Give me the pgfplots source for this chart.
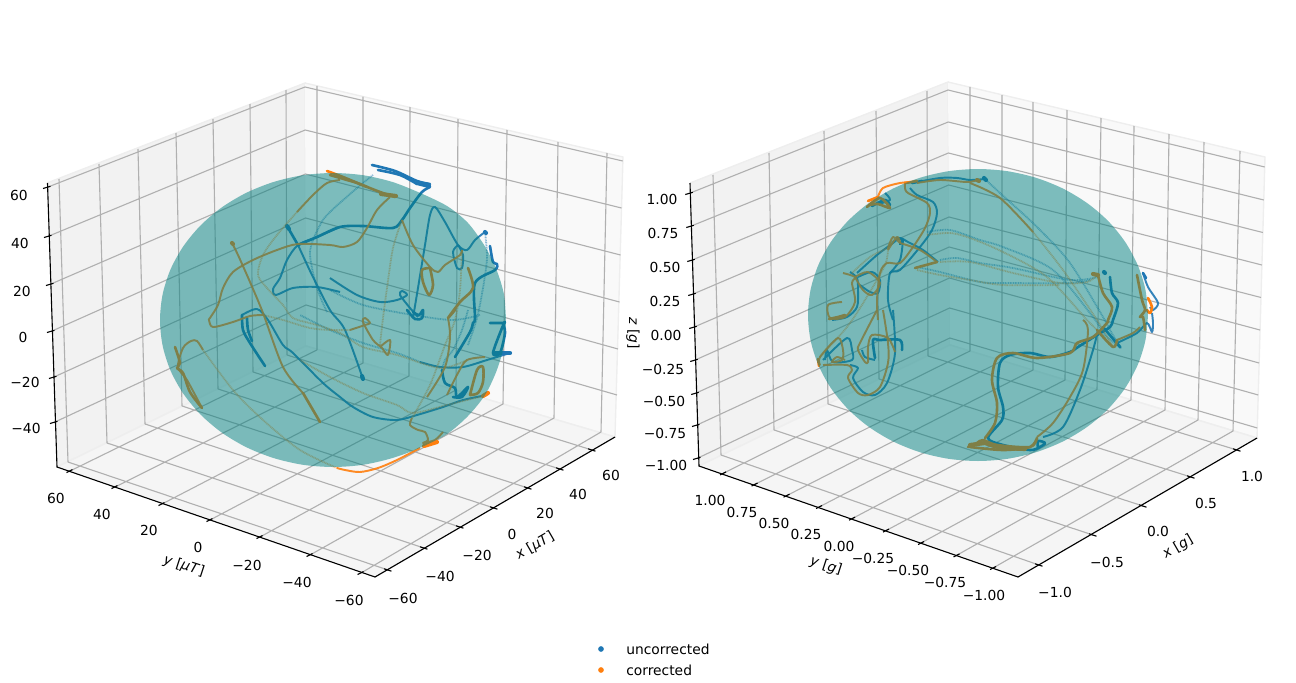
\documentclass[border=0pt]{standalone}
\usepackage{pgfplots}
\pgfplotsset{compat=1.18}
\usepackage{fontspec}
\setmainfont{DejaVu Sans}
\definecolor{mblue}{RGB}{31,119,180}
\definecolor{morange}{RGB}{255,127,14}
\definecolor{sph}{RGB}{0,128,128}
\definecolor{gridc}{RGB}{176,176,176}
\definecolor{wallL}{RGB}{242,242,242}
\definecolor{wallR}{RGB}{249,249,249}
\definecolor{wallF}{RGB}{245,245,245}
\definecolor{paneedge}{RGB}{238,238,238}
\begin{document}
\begin{tikzpicture}
\path[use as bounding box] (0,0) rectangle (12.96in,6.83in);
\begin{axis}[
  at={(0,0)}, anchor=south west,
  scale only axis, width=12.96in, height=6.83in,
  xmin=0, xmax=1296, ymin=0, ymax=683, y dir=reverse,
  hide axis, clip=false, unbounded coords=jump,
  font=\fontsize{10}{12}\selectfont,
  ux/.style={mblue, line width=3pt, line cap=round, line join=round},
  ub/.style={mblue, line width=1.9pt, line join=round, line cap=round, smooth, tension=.5},
  um/.style={mblue, line width=1.4pt, line join=round, opacity=.9, smooth, tension=.5},
  uf/.style={mblue, line width=1.3pt, opacity=.5, dash pattern=on .7pt off .5pt, smooth, tension=.5},
  ox/.style={morange, line width=3pt, line cap=round, line join=round},
  ob/.style={morange, line width=1.9pt, line join=round, line cap=round, smooth, tension=.5},
  om/.style={morange, line width=1.4pt, line join=round, opacity=.9, smooth, tension=.5},
  of/.style={morange, line width=1.3pt, opacity=.5, dash pattern=on .7pt off .5pt, smooth, tension=.5},
  tl/.style={black, line width=.8pt},
]
% ---------- left panel: panes
\addplot[fill=wallL, draw=paneedge, line width=1pt] coordinates {(47,183) (305,83) (306,346) (57,467)};
\addplot[fill=wallR, draw=paneedge, line width=1pt] coordinates {(305,83) (623,157) (615,437) (306,346)};
\addplot[fill=wallF, draw=paneedge, line width=1pt] coordinates {(57,467) (306,346) (615,437) (375,577)};
% grid
\addplot[gridc, line width=.8pt] coordinates {
 (59,179) (68,462) (nan,nan) (99,164) (107,443) (nan,nan) (138,149) (145,424) (nan,nan)
 (176,133) (182,406) (nan,nan) (213,119) (218,389) (nan,nan) (250,104) (253,372) (nan,nan) (286,90) (287,355) (nan,nan)
 (317,86) (317,350) (nan,nan) (363,96.5) (363,363) (nan,nan) (410,107) (409,376) (nan,nan) (458,119) (456,390) (nan,nan)
 (507,130) (503,404) (nan,nan) (558,142) (554,418) (nan,nan) (607,153) (601,432) (nan,nan)
 (48,187) (305,87) (622.7,161) (nan,nan) (49,236) (305.2,130) (621.5,208) (nan,nan)
 (51,284) (305.4,174) (620.5,255) (nan,nan) (52,331) (305.6,218) (619.5,302) (nan,nan)
 (54,377) (305.8,262) (618,349) (nan,nan) (55,422) (306,305) (617,395) (nan,nan)
 (388,570) (68,462) (nan,nan) (424,548) (107,443) (nan,nan) (460,527) (145,424) (nan,nan) (494,508) (182,406) (nan,nan)
 (528,488) (218,389) (nan,nan) (560,469) (253,372) (nan,nan) (592,450) (287,355) (nan,nan)
 (70,471) (317,350) (nan,nan) (115,487) (363,363) (nan,nan) (162,504) (409,376) (nan,nan) (210,520) (456,390) (nan,nan)
 (260,537) (503,404) (nan,nan) (310,555) (554,418) (nan,nan) (361,573) (601,432)
};
% axis lines and ticks
\addplot[black, line width=.8pt] coordinates {(47.5,183) (57,467) (375,577) (615,437)};
\addplot[tl] coordinates {
 (43,188.5) (50.5,186.3) (nan,nan) (44,237.5) (51.5,235.3) (nan,nan) (46,285.5) (53.5,283.3) (nan,nan)
 (47,332.5) (54.5,330.3) (nan,nan) (49,378.5) (56.5,376.3) (nan,nan) (50,423.5) (57.5,421.3) (nan,nan)
 (66.5,472.5) (72.5,469.5) (nan,nan) (111.5,488.5) (117.5,485.5) (nan,nan) (158.5,505.5) (164.5,502.5) (nan,nan)
 (206.5,521.5) (212.5,518.5) (nan,nan) (256.5,538.5) (262.5,535.5) (nan,nan) (306.5,556.5) (312.5,553.5) (nan,nan) (357.5,574.5) (363.5,571.5) (nan,nan)
 (384,568.8) (391.5,571.2) (nan,nan) (420,546.8) (427.5,549.2) (nan,nan) (456,525.8) (463.5,528.2) (nan,nan)
 (490,506.8) (497.5,509.2) (nan,nan) (524,486.8) (531.5,489.2) (nan,nan) (556,467.8) (563.5,470.2) (nan,nan) (588,448.8) (595.5,451.2)
};
% tick labels
\node at (axis cs:19,195) {60}; \node at (axis cs:20,243) {40}; \node at (axis cs:22,291) {20};
\node at (axis cs:23,337) {0}; \node at (axis cs:25,382) {−20}; \node at (axis cs:26,428) {−40};
\node at (axis cs:56,498) {60}; \node at (axis cs:102,514) {40}; \node at (axis cs:149,530) {20};
\node at (axis cs:198,547) {0}; \node at (axis cs:247,565) {−20}; \node at (axis cs:297,582) {−40}; \node at (axis cs:349,600) {−60};
\node at (axis cs:403,598) {−60}; \node at (axis cs:440,576) {−40}; \node at (axis cs:477,555) {−20};
\node at (axis cs:512,534) {0}; \node at (axis cs:545,513) {20}; \node at (axis cs:578,494) {40}; \node at (axis cs:611,475) {60};
\node[rotate=-18] at (axis cs:184,566) {\textit{y} [\textit{μT}]};
\node[rotate=30] at (axis cs:535,546) {\textit{x} [\textit{μT}]};

% uncorrected, left
\addplot[ux] coordinates {(287,226) (289,229)};
\addplot[ub] coordinates {(287,226) (298,245)};
\addplot[um] coordinates {(340,227) (317,237) (298,245) (287,260) (280,278) (273,289) (276,295) (293,288) (317,287) (340,292)};
\addplot[ub] coordinates {(298,245) (317,237) (340,227) (363,226) (393,228) (402,220) (410,208) (422,192) (430,187)};
\addplot[ub] coordinates {(372,165) (395,171) (417,181) (430,184)};
\addplot[ub] coordinates {(378,170) (400,175) (417,184)};
\addplot[ux] coordinates {(417,183) (429,186)};
\addplot[uf] coordinates {(373,175) (357,188) (330,212) (320,225) (310,252) (317,288) (327,312)};
\addplot[um] coordinates {(298,245) (312,275) (330,310) (345,330) (363,379)};
\addplot[ux] coordinates {(362,376) (363,379)};
\addplot[um] coordinates {(413,318) (418,288) (425,245) (430,215) (435,207) (445,222) (458,245) (467,250) (475,240) (485,232)};
\addplot[ux] coordinates {(485,232) (486,233)};
\addplot[um] coordinates {(458,245) (453,252) (457,268) (462,268) (463,255) (458,245)};
\addplot[ub] coordinates {(490,246) (493,262) (497,264) (495,270) (475,283) (475,318) (473,323) (470,332) (455,357)};
\addplot[uf] coordinates {(485,232) (487,258) (483,288) (477,318) (468,345)};
\addplot[um] coordinates {(330,278) (357,295) (380,302) (397,300) (407,295) (402,291) (400,295) (410,308) (418,317)};
\addplot[ub] coordinates {(407,310) (415,319) (422,318) (423,310) (419,315) (413,312)};
\addplot[uf] coordinates {(330,290) (363,305) (413,315) (453,320) (480,315)};
\addplot[ub] coordinates {(490,323) (503,323) (505,322) (502,328) (493,353) (500,353) (505,333) (503,323)};
\addplot[ux] coordinates {(495,353) (510,353)};
\addplot[um] coordinates {(510,353) (487,360) (463,367) (440,367) (420,362)};
\addplot[uf] coordinates {(420,362) (397,353) (363,343) (330,330) (300,315)};
\addplot[um] coordinates {(242,315) (257,309) (268,320) (283,345) (293,353) (323,383) (340,397) (353,407) (373,417) (397,420) (417,415) (443,407) (463,400) (487,395)};
\addplot[ub] coordinates {(242,315) (243,330) (250,343) (265,366)};
\addplot[ub] coordinates {(247,318) (248,330) (252,341)};
\addplot[ub] coordinates {(442,370) (445,383) (455,388) (457,397) (468,387) (462,397) (453,397)};
\addplot[uf] coordinates {(468,310) (462,330) (453,350) (445,360) (442,370)};

% corrected, left
\addplot[ob] coordinates {(327,171) (343,177) (367,187)};
\addplot[ob] coordinates {(330,175) (347,180) (357,183) (380,192) (395,197)};
\addplot[ox] coordinates {(381,194) (396,196)};
\addplot[om] coordinates {(340,180) (327,183) (313,195) (297,212)};
\addplot[of] coordinates {(297,212) (277,235) (263,255) (258,275) (267,288) (283,305) (293,318) (317,325) (340,333) (363,347) (397,355) (440,368) (467,360)};
\addplot[om] coordinates {(390,197) (377,210) (367,228) (357,242) (343,247) (330,245) (298,244) (277,250) (253,260) (233,272) (223,288) (218,305) (210,318) (209,320) (213,327) (233,322) (250,316) (263,315)};
\addplot[of] coordinates {(263,315) (283,320) (310,328) (330,330) (350,330)};
\addplot[om] coordinates {(350,330) (365,325) (370,323) (365,318) (363,322) (373,340) (382,348) (388,355) (390,340) (380,347)};
\addplot[of] coordinates {(402,220) (393,248) (387,288) (383,318) (380,345)};
\addplot[om] coordinates {(402,220) (413,245) (430,267) (438,272) (445,265) (460,255) (462,250)};
\addplot[ob] coordinates {(430,268) (422,270) (423,282) (429,295) (433,285) (430,268)};
\addplot[ob] coordinates {(468,268) (473,288) (460,302) (448,318) (455,310)};
\addplot[om] coordinates {(448,318) (450,337) (445,367) (427,397)};
\addplot[of] coordinates {(462,250) (460,290) (455,320) (445,345) (430,385) (412,418)};
\addplot[om] coordinates {(412,418) (410,425) (418,430) (425,432) (428,440) (423,443) (435,440) (443,432)};
\addplot[ox] coordinates {(424,446) (437,442)};
\addplot[om] coordinates {(420,448) (397,460) (378,468) (360,472) (345,470) (337,468)};
\addplot[of] coordinates {(337,468) (300,450) (263,420) (233,390) (203,350)};
\addplot[om] coordinates {(203,350) (197,341) (191,341) (183,348) (178,367) (187,380) (202,408)};
\addplot[ob] coordinates {(175,347) (180,363) (177,368) (183,373) (190,392) (202,408)};
\addplot[ux, morange] coordinates {(232,243) (233,244)};
\addplot[om] coordinates {(232,243) (238,255) (250,282) (263,313) (283,367) (303,393)};
\addplot[ob] coordinates {(303,393) (320,422)};
\addplot[ob] coordinates {(470,395) (477,370) (483,367) (483,382) (478,393) (470,395)};
\addplot[om] coordinates {(485,357) (467,360) (458,373) (447,395)};
\addplot[ox] coordinates {(483,396) (488,393)};
\addplot[of] coordinates {(487,395) (447,405) (413,413) (397,405) (363,393) (330,377) (300,360)};

% sphere, left
\addplot[fill=sph, fill opacity=.5, draw=none, smooth] coordinates {
 (506,320) (504,294.5) (496.5,269.7) (485,246.5) (468,223) (447,206) (419.5,192.7) (392.2,181.9) (363,175.2) (333,173)
 (303,175.2) (273.8,181.9) (246.5,192.7) (221.8,207.4) (200.5,225.5) (183.2,246.5) (170.4,269.7) (162.6,294.5) (160,320)
 (162.6,345.5) (170.4,370.3) (183.2,393.5) (200.5,414.5) (221.8,432.6) (246.5,447.3) (273.8,458.1) (303,464.8) (333,467)
 (363,464.8) (392.2,458.1) (419.5,448) (447,434) (468,416) (485,395) (496.5,371) (504,345.5) (506,320)
};

% ---------- right panel: panes
\addplot[fill=wallL, draw=paneedge, line width=1pt] coordinates {(690,183) (948,82) (950,345) (699,466)};
\addplot[fill=wallR, draw=paneedge, line width=1pt] coordinates {(948,82) (1265,157) (1257,438) (950,345)};
\addplot[fill=wallF, draw=paneedge, line width=1pt] coordinates {(699,466) (950,345) (1257,438) (1018,577)};
\addplot[gridc, line width=.8pt] coordinates {
 (713,175) (721,455) (nan,nan) (769,153) (774,430) (nan,nan) (824,131) (828,404) (nan,nan) (876,111) (879,379) (nan,nan) (927,91) (928,356) (nan,nan)
 (970,87) (970,351) (nan,nan) (1002,95) (1002,361) (nan,nan) (1033,102) (1033,370) (nan,nan) (1067,110) (1065,380) (nan,nan)
 (1101,118) (1097,389.5) (nan,nan) (1134,126) (1131,400) (nan,nan) (1169,134) (1165,410) (nan,nan) (1204,142) (1198,420) (nan,nan) (1240,151) (1233,431) (nan,nan)
 (690.3,193) (948,90) (1264.7,167) (nan,nan) (691.3,226) (948.2,122) (1263.8,200) (nan,nan) (692.3,260) (948.4,153) (1262.8,232.5) (nan,nan)
 (693.2,294) (948.7,185) (1261.9,265) (nan,nan) (694.2,327) (949,217) (1261,297.5) (nan,nan) (695.2,360) (949.2,247) (1260,330) (nan,nan)
 (696.2,393) (949.4,278) (1259.1,363) (nan,nan) (697,425) (949.6,308) (1258.2,395) (nan,nan) (698,458) (949.8,338) (1257.3,428) (nan,nan)
 (1039,565) (721,455) (nan,nan) (1093,535) (774,430) (nan,nan) (1143,506) (828,404) (nan,nan) (1191,477) (879,379) (nan,nan) (1237,450) (928,356) (nan,nan)
 (723,473.4) (970,351) (nan,nan) (754.5,484.5) (1002,361) (nan,nan) (786.5,495.7) (1033,370) (nan,nan) (819,507) (1065,380) (nan,nan)
 (852,518.7) (1097,389.5) (nan,nan) (886,530.6) (1131,400) (nan,nan) (921,543) (1165,410) (nan,nan) (956.5,555.4) (1198,420) (nan,nan) (993,568) (1233,431)
};
\addplot[black, line width=.8pt] coordinates {(690,183) (699,466) (1018,577) (1257,438)};
\addplot[tl] coordinates {
 (685.3,194.5) (692.8,192.3) (nan,nan) (686.3,227.5) (693.8,225.3) (nan,nan) (687.3,261.5) (694.8,259.3) (nan,nan)
 (688.2,295.5) (695.7,293.3) (nan,nan) (689.2,328.5) (696.7,326.3) (nan,nan) (690.2,361.5) (697.7,359.3) (nan,nan)
 (691.2,394.5) (698.7,392.3) (nan,nan) (692,426.5) (699.5,424.3) (nan,nan) (693,459.5) (700.5,457.3) (nan,nan)
 (720,474.9) (726,471.9) (nan,nan) (751.5,486) (757.5,483) (nan,nan) (783.5,497.2) (789.5,494.2) (nan,nan)
 (816,508.5) (822,505.5) (nan,nan) (849,520.2) (855,517.2) (nan,nan) (883,532.1) (889,529.1) (nan,nan)
 (918,544.5) (924,541.5) (nan,nan) (953.5,556.9) (959.5,553.9) (nan,nan) (990,569.5) (996,566.5) (nan,nan)
 (1035,563.8) (1042.5,566.2) (nan,nan) (1089,533.8) (1096.5,536.2) (nan,nan) (1139,504.8) (1146.5,507.2) (nan,nan)
 (1187,475.8) (1194.5,478.2) (nan,nan) (1233,448.8) (1240.5,451.2)
};
\node at (axis cs:662,199) {1.00}; \node at (axis cs:663,233) {0.75}; \node at (axis cs:665,267) {0.50};
\node at (axis cs:665,301) {0.25}; \node at (axis cs:666,335) {0.00}; \node at (axis cs:663,369) {−0.25};
\node at (axis cs:664,401) {−0.50}; \node at (axis cs:665,433) {−0.75}; \node at (axis cs:666,465) {−1.00};
\node at (axis cs:710,500) {1.00}; \node at (axis cs:742,512) {0.75}; \node at (axis cs:774,523) {0.50};
\node at (axis cs:806,534) {0.25}; \node at (axis cs:839,546) {0.00}; \node at (axis cs:873,558) {−0.25};
\node at (axis cs:908,570) {−0.50}; \node at (axis cs:945,582) {−0.75}; \node at (axis cs:984,595) {−1.00};
\node at (axis cs:1055,592) {−1.0}; \node at (axis cs:1107,562) {−0.5}; \node at (axis cs:1158,531) {0.0};
\node at (axis cs:1206,503) {0.5}; \node at (axis cs:1252,476) {1.0};
\node[rotate=-18] at (axis cs:826,566) {\textit{y} [\textit{g}]};
\node[rotate=30] at (axis cs:1178,547) {\textit{x} [\textit{g}]};
\node[rotate=-90] at (axis cs:633,333) {\textit{z} [\textit{g}]};

% uncorrected, right
\addplot[um] coordinates {(885,193) (890,200) (878,204)};
\addplot[ub] coordinates {(872,206) (885,200) (890,205)};
\addplot[ub] coordinates {(912,183) (922,181)};
\addplot[um] coordinates {(910,188) (917,195) (933,202) (937,213) (932,230) (920,247) (900,270) (890,273) (888,300) (893,320)};
\addplot[um] coordinates {(912,183) (940,178) (957,178) (970,180) (985,179)};
\addplot[ux] coordinates {(984,178) (986,180)};
\addplot[uf] coordinates {(985,179) (1000,193) (1037,227) (1070,263) (1103,317) (1110,330) (1120,347)};
\addplot[uf] coordinates {(927,232) (950,230) (980,240) (1003,247) (1053,270) (1093,317) (1105,335) (1120,347)};
\addplot[uf] coordinates {(940,260) (957,258) (980,263) (1013,268) (1070,280) (1098,277)};
\addplot[uf] coordinates {(917,267) (940,272) (980,282) (1003,283) (1070,283) (1090,280)};
\addplot[ux] coordinates {(1104,272) (1105,273)};
\addplot[ub] coordinates {(1110,277) (1112,293) (1118,303) (1113,320) (1110,327) (1097,335) (1078,347) (1070,352) (1050,357) (1030,353) (1010,355) (1000,363) (998,387) (1003,407) (1002,420) (988,438) (1003,445) (1030,450) (1040,447) (1045,443) (1038,441) (1038,448)};
\addplot[um] coordinates {(1043,437) (1063,427) (1080,390) (1093,350) (1098,330)};
\addplot[um] coordinates {(1143,273) (1148,287) (1158,303) (1153,310) (1150,307)};
\addplot[ub] coordinates {(1143,273) (1146,278)};
\addplot[um] coordinates {(1152,313) (1153,323) (1152,332) (1147,323) (1137,333) (1117,343)};
\addplot[ub] coordinates {(1117,343) (1120,347) (1103,327)};
\addplot[um] coordinates {(850,272) (857,278) (858,290) (857,307) (847,317) (832,320)};
\addplot[um] coordinates {(858,277) (872,272) (880,280) (878,293) (870,292) (860,285)};
\addplot[um] coordinates {(857,273) (877,255) (893,243) (900,238) (908,242) (923,250) (938,262)};
\addplot[ub] coordinates {(897,238) (903,240) (900,244)};
\addplot[um] coordinates {(903,240) (900,260) (890,273)};
\addplot[um] coordinates {(823,360) (847,338) (852,350) (852,360) (833,362) (827,350) (825,360)};
\addplot[um] coordinates {(850,365) (858,368) (853,378) (863,392) (875,395) (887,383) (895,353) (893,310)};
\addplot[ub] coordinates {(875,358) (873,340) (880,340) (900,340) (902,350)};
\addplot[um] coordinates {(862,350) (865,357) (875,360)};

% corrected, right
\addplot[ob] coordinates {(868,201) (878,197)};
\addplot[om] coordinates {(878,197) (883,188) (900,183) (913,182)};
\addplot[ob] coordinates {(867,207) (880,198) (890,208) (878,204) (870,205)};
\addplot[ob] coordinates {(905,183) (917,181)};
\addplot[om] coordinates {(905,183) (905,188) (908,193) (927,203) (930,213) (925,228) (913,247) (900,263) (887,263) (880,273) (877,300) (878,320)};
\addplot[om] coordinates {(917,183) (940,180) (967,182) (978,180)};
\addplot[ox] coordinates {(977,180) (979,181)};
\addplot[om] coordinates {(970,183) (1000,198) (1033,232)};
\addplot[of] coordinates {(1033,232) (1063,270) (1097,320) (1113,347)};
\addplot[of] coordinates {(927,235) (950,233) (970,238) (1003,252) (1047,277) (1087,320) (1097,330) (1113,347)};
\addplot[of] coordinates {(940,262) (970,262) (1013,273) (1060,283) (1087,282) (1097,275)};
\addplot[of] coordinates {(917,270) (940,275) (970,280) (1003,285) (1060,285)};
\addplot[ox] coordinates {(1093,274) (1098,275)};
\addplot[ob] coordinates {(1098,275) (1103,293) (1112,307) (1108,320) (1107,323) (1093,337) (1077,343) (1070,353) (1037,358) (1013,353) (997,358) (992,380) (997,403) (995,423) (985,438)};
\addplot[ob] coordinates {(968,447) (977,443) (983,440) (997,445) (1030,447) (1037,438) (1030,447) (1003,450) (970,447)};
\addplot[ox] coordinates {(970,445) (985,443) (1000,448) (1025,449)};
\addplot[om] coordinates {(1037,437) (1053,423) (1070,397) (1083,370) (1088,330) (1083,320)};
\addplot[ob] coordinates {(1137,275) (1142,300) (1145,310) (1140,317) (1143,317) (1145,330)};
\addplot[ob] coordinates {(1148,298) (1152,307) (1150,313) (1147,310)};
\addplot[om] coordinates {(1140,327) (1133,333) (1117,340)};
\addplot[ob] coordinates {(1117,340) (1113,347) (1097,330)};
\addplot[om] coordinates {(843,273) (855,277) (852,283) (855,302) (845,317) (830,318) (828,305) (842,302)};
\addplot[om] coordinates {(855,277) (868,272) (880,283) (872,295) (863,290) (855,277)};
\addplot[ob] coordinates {(829,319) (838,317) (845,315)};
\addplot[of] coordinates {(852,273) (870,257) (888,248)};
\addplot[om] coordinates {(888,248) (893,237) (900,243) (897,237) (888,250)};
\addplot[om] coordinates {(900,243) (920,250) (937,262)};
\addplot[ob] coordinates {(915,268) (937,262)};
\addplot[om] coordinates {(877,310) (860,343) (858,350) (865,362) (868,362) (868,347) (872,335) (888,338) (895,352)};
\addplot[om] coordinates {(820,365) (820,357) (838,338) (843,350) (842,360) (832,362) (837,357) (845,360)};
\addplot[om] coordinates {(823,365) (847,365) (852,370) (848,378) (858,393) (868,395) (880,387) (888,363) (888,343) (883,310)};
\addplot[of] coordinates {(820,357) (847,327) (865,300) (885,265) (888,248)};
\addplot[ob] coordinates {(818,359) (819,366)};

% sphere, right
\addplot[fill=sph, fill opacity=.5, draw=none, smooth] coordinates {
 (1148,315) (1145.4,289.6) (1137.7,265.1) (1125.2,242) (1108.2,221.1) (1087.3,203.2) (1063,188.6) (1036.1,177.8) (1007.5,171.2) (978,169)
 (948.5,171.2) (919.9,177.8) (893,188.6) (868.7,203.2) (847.8,221.1) (830.8,242) (818.3,265.1) (810.6,289.6) (808,315)
 (810.6,340.4) (818.3,364.9) (830.8,388) (847.8,408.9) (868.7,426.8) (893,441.4) (919.9,452.2) (948.5,458.8) (978,461)
 (1007.5,458.8) (1036.1,452.2) (1063,441.4) (1087.3,426.8) (1108.2,408.9) (1125.2,388) (1137.7,364.9) (1145.4,340.4) (1148,315)
};

% legend
\addplot[only marks, mark=*, mark size=1.8pt, mblue, mark options={draw=mblue, fill=mblue}] coordinates {(601,649)};
\addplot[only marks, mark=*, mark size=1.8pt, morange, mark options={draw=morange, fill=morange}] coordinates {(601,670)};
\node[anchor=west, inner sep=0pt] at (axis cs:626,649) {uncorrected};
\node[anchor=west, inner sep=0pt] at (axis cs:626,670) {corrected};
\end{axis}
\end{tikzpicture}
\end{document}
